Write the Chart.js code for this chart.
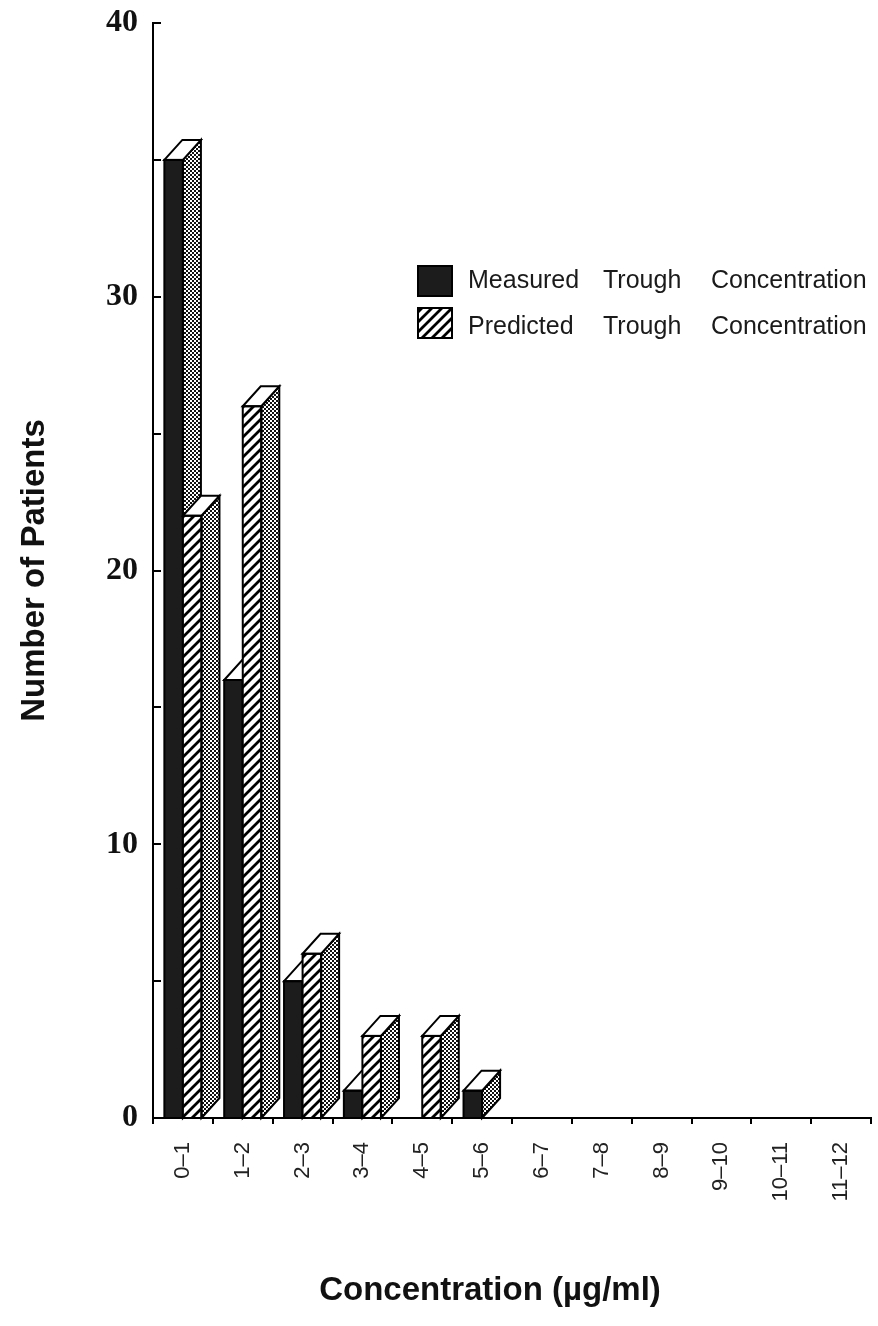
<!DOCTYPE html>
<html>
<head>
<meta charset="utf-8">
<script src="https://cdn.jsdelivr.net/npm/chart.js@4"></script>
<style>
html,body{margin:0;padding:0;background:#fff;}
#wrap{width:878px;height:1326px;position:relative;}
canvas{display:block;}
</style>
</head>
<body>
<div id="wrap"><canvas id="c" width="878" height="1326"></canvas></div>
<script>
// ---- data ----
const categories = ['0–1','1–2','2–3','3–4','4–5','5–6','6–7','7–8','8–9','9–10','10–11','11–12'];
const measured  = [35, 16, 5, 1, 0, 1, 0, 0, 0, 0, 0, 0];
const predicted = [22, 26, 6, 3, 3, 0, 0, 0, 0, 0, 0, 0];
const yTickValues = [0, 10, 20, 30, 40];
const yMinorTicks = [5, 15, 25, 35];
const seriesNames = ['Measured Trough Concentration', 'Predicted Trough Concentration'];
const xTitle = 'Concentration (µg/ml)';
const yTitle = 'Number of Patients';

// ---- patterns ----
function makeHatch() {
  const t = document.createElement('canvas');
  t.width = 10; t.height = 10;
  const g = t.getContext('2d');
  g.fillStyle = '#fff'; g.fillRect(0, 0, 10, 10);
  g.strokeStyle = '#000'; g.lineWidth = 2.8;
  g.beginPath();
  g.moveTo(-2, 12); g.lineTo(12, -2);
  g.moveTo(-2, 2); g.lineTo(2, -2);
  g.moveTo(8, 12); g.lineTo(12, 8);
  g.stroke();
  return document.getElementById('c').getContext('2d').createPattern(t, 'repeat');
}
function makeDots() {
  const t = document.createElement('canvas');
  t.width = 4; t.height = 4;
  const g = t.getContext('2d');
  g.fillStyle = '#fff'; g.fillRect(0, 0, 4, 4);
  g.fillStyle = '#111';
  g.fillRect(0, 0, 2, 2); g.fillRect(2, 2, 2, 2);
  return document.getElementById('c').getContext('2d').createPattern(t, 'repeat');
}
const hatch = makeHatch();
const dots = makeDots();
const DARK = '#1c1c1c';
const DX = 18, DY = 20;

const SANS = "'Liberation Sans', Arial, Helvetica, sans-serif";
const SERIF = "'Liberation Serif', 'Times New Roman', serif";

function drawFaces(ctx, meta, values) {
  ctx.save();
  ctx.lineWidth = 2;
  ctx.strokeStyle = '#000';
  meta.data.forEach((bar, i) => {
    if (!values[i]) return;
    const p = bar.getProps(['x', 'y', 'base', 'width'], true);
    const xl = p.x - p.width / 2, xr = p.x + p.width / 2;
    const yt = p.y, yb = p.base;
    // side face
    ctx.beginPath();
    ctx.moveTo(xr, yb);
    ctx.lineTo(xr + DX, yb - DY);
    ctx.lineTo(xr + DX, yt - DY);
    ctx.lineTo(xr, yt);
    ctx.closePath();
    ctx.fillStyle = dots; ctx.fill(); ctx.stroke();
    // top face
    ctx.beginPath();
    ctx.moveTo(xl, yt);
    ctx.lineTo(xl + DX, yt - DY);
    ctx.lineTo(xr + DX, yt - DY);
    ctx.lineTo(xr, yt);
    ctx.closePath();
    ctx.fillStyle = '#fff'; ctx.fill(); ctx.stroke();
    // front outline
    ctx.strokeRect(xl, yt, p.width, yb - yt);
  });
  ctx.restore();
}

// 3D side + top faces, built from each bar element's geometry
const box3d = {
  id: 'box3d',
  afterDatasetsDraw(chart) {
    const ctx = chart.ctx;
    const m0 = chart.getDatasetMeta(0);
    const m1 = chart.getDatasetMeta(1);
    drawFaces(ctx, m0, chart.data.datasets[0].data);
    // predicted boxes sit in front of the measured boxes' side faces
    m1.data.forEach((bar, i) => { if (chart.data.datasets[1].data[i]) bar.draw(ctx, chart.chartArea); });
    drawFaces(ctx, m1, chart.data.datasets[1].data);
  }
};

const decorations = {
  id: 'decorations',
  beforeDraw(chart) {
    const ctx = chart.ctx;
    ctx.save();
    ctx.fillStyle = '#fff';
    ctx.fillRect(0, 0, chart.width, chart.height);
    ctx.restore();
  },
  afterDraw(chart) {
    const ctx = chart.ctx;
    const ys = chart.scales.y;
    const left = chart.chartArea.left;
    ctx.save();
    // inward y tick marks
    ctx.strokeStyle = '#000';
    ctx.lineWidth = 2;
    [...yTickValues, ...yMinorTicks].forEach(v => {
      const py = Math.round(ys.getPixelForValue(v));
      ctx.beginPath();
      ctx.moveTo(left, py);
      ctx.lineTo(left + 8, py);
      ctx.stroke();
    });
    // x title
    ctx.fillStyle = '#111';
    ctx.font = 'bold 33px ' + SANS;
    ctx.textAlign = 'center';
    ctx.textBaseline = 'middle';
    ctx.fillText(xTitle, 490, 1291);
    // legend
    const fills = [DARK, hatch];
    const boxes = [[418, 266], [418, 308]];
    const wordX = [468, 603, 711];
    const baseY = [288, 334];
    ctx.font = '25px ' + SANS;
    ctx.textAlign = 'left';
    ctx.textBaseline = 'alphabetic';
    chart.data.datasets.forEach((ds, k) => {
      const [bx, by] = boxes[k];
      ctx.fillStyle = fills[k];
      ctx.fillRect(bx, by, 34, 30);
      ctx.lineWidth = 2;
      ctx.strokeRect(bx, by, 34, 30);
      ctx.fillStyle = '#1a1a1a';
      ds.label.split(' ').forEach((w, j) => ctx.fillText(w, wordX[j], baseY[k]));
    });
    ctx.restore();
  }
};

new Chart(document.getElementById('c'), {
  type: 'bar',
  data: {
    labels: categories,
    datasets: [
      { label: seriesNames[0], data: measured, backgroundColor: DARK,
        borderColor: '#000', borderWidth: 0 },
      { label: seriesNames[1], data: predicted, backgroundColor: hatch,
        borderColor: '#000', borderWidth: 0 }
    ]
  },
  options: {
    responsive: false,
    animation: false,
    devicePixelRatio: 1,
    layout: { padding: { top: 23, right: 7, left: 0, bottom: 0 } },
    plugins: { legend: { display: false }, tooltip: { enabled: false } },
    datasets: { bar: { categoryPercentage: 0.62, barPercentage: 1.0 } },
    scales: {
      x: {
        offset: true,
        grid: { display: true, drawOnChartArea: false, drawTicks: true, tickLength: 6,
                color: '#000', lineWidth: 2, offset: true },
        border: { display: true, color: '#000', width: 2 },
        ticks: { autoSkip: false, maxRotation: 90, minRotation: 90, padding: 18,
                 color: '#222', font: { family: SANS, size: 22 } },
        afterFit(scale) { scale.height = 208; scale.paddingLeft = 0; scale.paddingRight = 0; }
      },
      y: {
        min: 0, max: 40,
        ticks: { stepSize: 10, padding: 15, color: '#111',
                 font: { family: SERIF, size: 32, weight: 'bold' } },
        grid: { display: false, drawTicks: false },
        border: { display: true, color: '#000', width: 2 },
        title: { display: true, text: yTitle, color: '#111',
                 font: { family: SANS, size: 33, weight: 'bold' }, padding: { top: 15, bottom: 0 } },
        afterFit(scale) { scale.width = 153; scale.paddingTop = 0; scale.paddingBottom = 0; }
      }
    }
  },
  plugins: [decorations, box3d]
});
</script>
</body>
</html>
